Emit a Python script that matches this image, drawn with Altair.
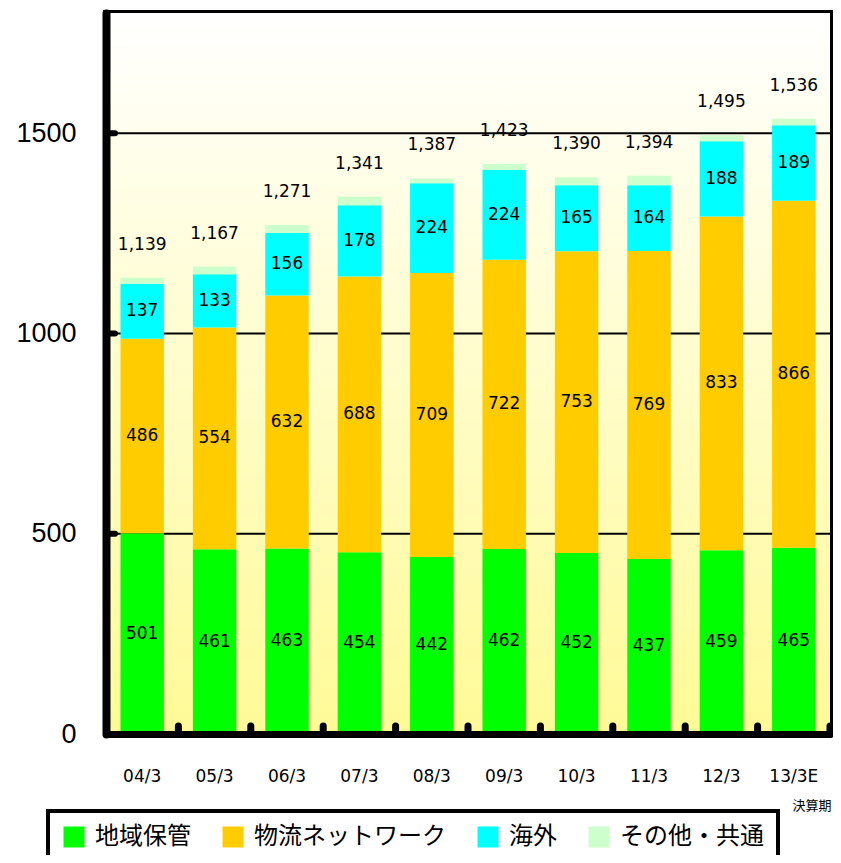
import altair as alt
import pandas as pd

periods = ["04/3", "05/3", "06/3", "07/3", "08/3", "09/3", "10/3", "11/3", "12/3", "13/3E"]
segments = ["地域保管", "物流ネットワーク", "海外", "その他・共通"]
colors = ["#00FF00", "#FFCC00", "#00FFFF", "#CCFFCC"]
regional = [501, 461, 463, 454, 442, 462, 452, 437, 459, 465]
network = [486, 554, 632, 688, 709, 722, 753, 769, 833, 866]
overseas = [137, 133, 156, 178, 224, 224, 165, 164, 188, 189]
totals = [1139, 1167, 1271, 1341, 1387, 1423, 1390, 1394, 1495, 1536]
y_ticks = [0, 500, 1000, 1500]
grid_vals = [500, 1000, 1500]

other = [t - a - b - c for t, a, b, c in zip(totals, regional, network, overseas)]
series = [regional, network, overseas, other]

rows = []
for i, p in enumerate(periods):
    base = 0
    for k, s in enumerate(segments):
        v = series[k][i]
        rows.append({"period": p, "seg": s, "ord": k, "value": v,
                     "mid": base + v / 2, "show": k < 3})
        base += v
df = pd.DataFrame(rows)
df_lab = df[df["show"]]
df_tot = pd.DataFrame({"period": periods, "total": totals})

W, H = 724, 721
PAD_OUT = 0.2
xscale = alt.Scale(domain=periods, paddingInner=0.4, paddingOuter=PAD_OUT)
yscale = alt.Scale(domain=[0, 1800], nice=False)

bg = alt.Chart(alt.Data(values=[{}])).mark_rect(
    fill=alt.Gradient(gradient="linear",
                      stops=[alt.GradientStop(color="#FFFFFF", offset=0),
                             alt.GradientStop(color="#FFFA96", offset=1)],
                      x1=0, x2=0, y1=0, y2=1)
).encode(x=alt.value(0), x2=alt.value("width"), y=alt.value(0), y2=alt.value("height"))

grid = alt.Chart(pd.DataFrame({"v": grid_vals})).mark_rule(color="black", strokeWidth=2).encode(
    y=alt.Y("v:Q", scale=yscale), x=alt.value(0), x2=alt.value("width"))

bars = alt.Chart(df).mark_bar().encode(
    x=alt.X("period:N", scale=xscale, sort=periods,
            axis=alt.Axis(title="決算期", labelAngle=0, labelFont="DejaVu Sans",
                          labelFontSize=17, labelPadding=34, ticks=False,
                          domainColor="black", domainWidth=7, domainCap="round",
                          titleFont="Noto Sans CJK JP", titleFontSize=13,
                          titleFontWeight="normal", titleX=W + 1, titleY=71,
                          titleAlign="right", titleBaseline="middle", zindex=1)),
    y=alt.Y("value:Q", scale=yscale, stack="zero",
            axis=alt.Axis(title=None, values=y_ticks, grid=False, ticks=False, format="d",
                          labelFont="Liberation Sans", labelFontSize=27,
                          labelPadding=30, domainColor="black", domainWidth=8,
                          domainCap="round", zindex=1)),
    color=alt.Color("seg:N", scale=alt.Scale(domain=segments, range=colors),
                    legend=alt.Legend(title=None, orient="none", legendX=-58, legendY=798,
                                      direction="horizontal", columns=4,
                                      symbolType="square", symbolSize=441,
                                      symbolStrokeWidth=0, labelFont="Noto Sans CJK JP",
                                      labelFontSize=24, labelOffset=9, columnPadding=30,
                                      labelLimit=0,
                                      padding=14, strokeColor="black", fillColor="white",
                                      labelBaseline="middle")),
    order=alt.Order("ord:Q", sort="ascending"),
)

yt = alt.Chart(pd.DataFrame({"v": y_ticks[1:]})).mark_rule(
    color="black", strokeWidth=6, strokeCap="round").encode(
    y=alt.Y("v:Q", scale=yscale), x=alt.value(0), x2=alt.value(9))

xt = alt.Chart(pd.DataFrame({"period": periods})).mark_rule(
    color="black", strokeWidth=7, strokeCap="round", xOffset=PAD_OUT * W / len(periods)).encode(
    x=alt.X("period:N", scale=xscale, sort=periods, bandPosition=1),
    y=alt.value("height"), y2=alt.value(H - 8))

seg_text = alt.Chart(df_lab).mark_text(
    font="DejaVu Sans", fontSize=17, color="black", baseline="middle").encode(
    x=alt.X("period:N", scale=xscale, sort=periods),
    y=alt.Y("mid:Q", scale=yscale),
    text=alt.Text("value:Q"))

tot_text = alt.Chart(df_tot).mark_text(
    font="DejaVu Sans", fontSize=17, color="black", baseline="middle", dy=-33).encode(
    x=alt.X("period:N", scale=xscale, sort=periods),
    y=alt.Y("total:Q", scale=yscale),
    text=alt.Text("total:Q", format=","))

chart = alt.layer(bg, grid, bars, yt, xt, seg_text, tot_text).properties(
    width=W, height=H,
    autosize=alt.AutoSizeParams(type="none"),
    padding={"left": 98, "top": 5, "right": 3, "bottom": 121},
).configure_view(stroke="black", strokeWidth=6).configure_legend(
    strokeWidth=4
)

chart.save("out.html", embed_options={"renderer": "svg", "actions": False})
